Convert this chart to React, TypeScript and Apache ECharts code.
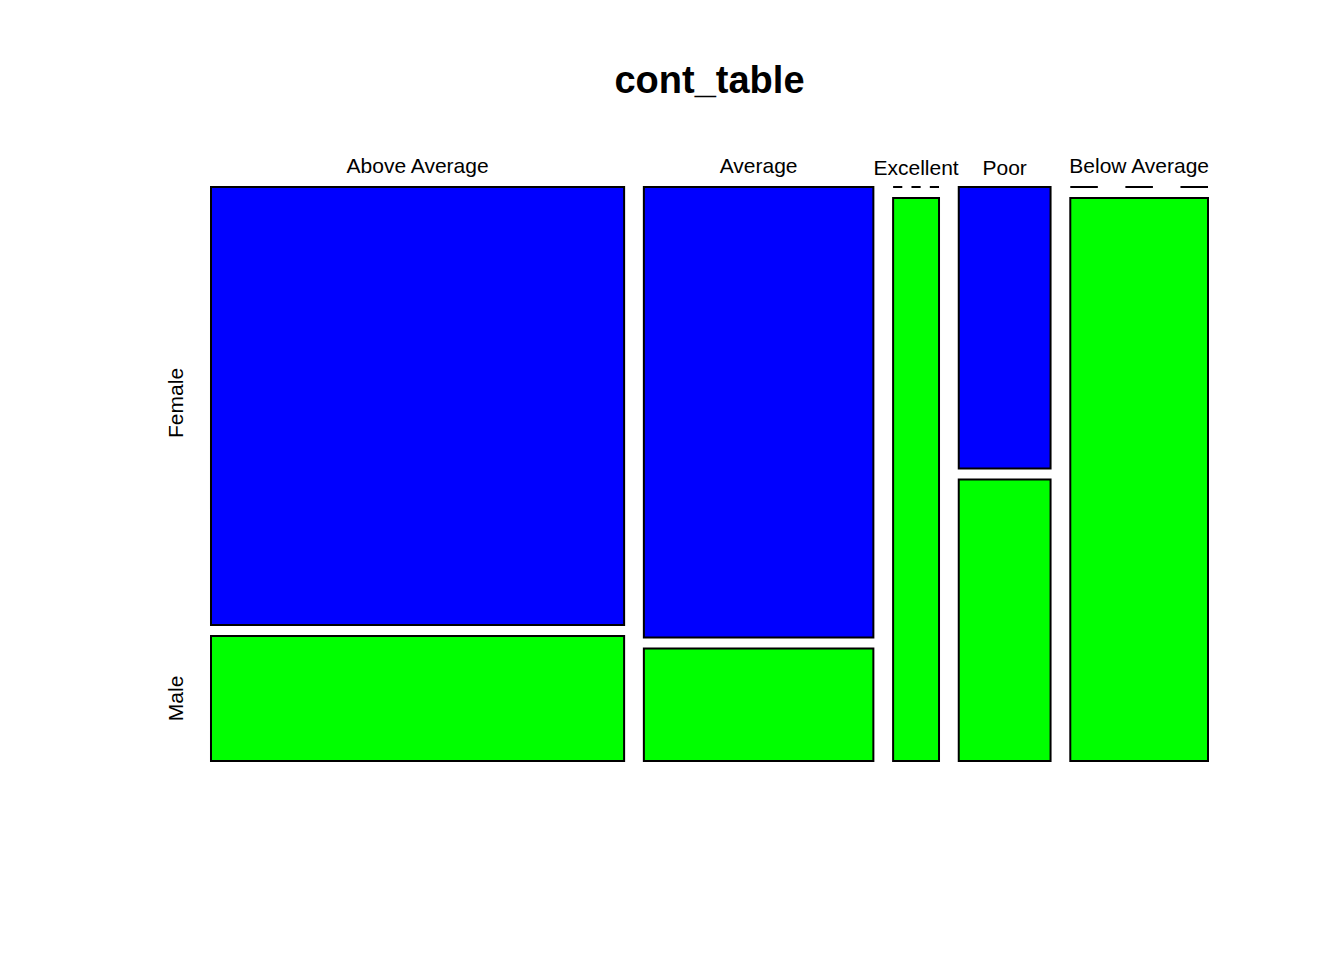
import React, { useEffect, useRef } from "react";
import * as echarts from "echarts";

const titleText = "cont_table";
const categories = ["Above Average", "Average", "Excellent", "Poor", "Below Average"];
const rowNames = ["Female", "Male"];
const female = [7, 4, 0, 1, 0];
const male = [2, 1, 1, 1, 3];
const rowColors = ["#0000FF", "#00FF00"];

const FONT = "'Liberation Sans', Arial, Helvetica, sans-serif";

export default function App() {
  const ref = useRef<HTMLDivElement>(null);

  useEffect(() => {
    if (!ref.current) return;
    const chart = echarts.init(ref.current, null, { renderer: "svg" });

    const counts = [female, male];
    const colTotals = categories.map((_, i) => female[i] + male[i]);
    const grand = colTotals.reduce((a, b) => a + b, 0);
    const xGap = 0.43; // gap between columns, in count units
    const yGap = 0.0195; // gap between rows, in fraction units
    const colStart: number[] = [];
    let acc = 0;
    colTotals.forEach((t) => {
      colStart.push(acc);
      acc += t + xGap;
    });
    const xMax = grand + xGap * (categories.length - 1);
    const yMax = 1 + yGap;

    const rowSpan = (c: number, r: number) => {
      const t = colTotals[c];
      const fFrac = female[c] / t;
      if (r === 0) return [0, fFrac];
      return [fFrac + yGap, 1 + yGap];
    };

    const cellData: number[][] = [];
    categories.forEach((_, c) => rowNames.forEach((__, r) => cellData.push([c, r])));

    const labelData: number[][] = categories.map((_, c) => [c, 0]);

    const option: any = {
      animation: false,
      backgroundColor: "#ffffff",
      grid: { left: 211, right: 136, top: 187, bottom: 199, containLabel: false },
      xAxis: { type: "value", min: 0, max: xMax, show: false },
      yAxis: { type: "value", min: 0, max: yMax, inverse: true, show: false },
      graphic: [
        {
          type: "text",
          x: 709.5,
          y: 80,
          style: {
            text: titleText,
            fill: "#000",
            font: `bold 38px ${FONT}`,
            textAlign: "center",
            textVerticalAlign: "middle",
            align: "center",
            verticalAlign: "middle",
          },
        },
      ],
      series: [
        {
          type: "custom",
          data: cellData,
          clip: false,
          renderItem: (params: any, api: any) => {
            const c = api.value(0);
            const r = api.value(1);
            const x0 = colStart[c];
            const x1 = x0 + colTotals[c];
            const [y0, y1] = rowSpan(c, r);
            const p0 = api.coord([x0, y0]);
            const p1 = api.coord([x1, y1]);
            const n = counts[r][c];
            if (n === 0) {
              const w = p1[0] - p0[0];
              return {
                type: "line",
                shape: { x1: p0[0], y1: p0[1], x2: p1[0], y2: p0[1] },
                style: { stroke: "#000", lineWidth: 2, lineDash: [w / 5, w / 5] },
              };
            }
            return {
              type: "rect",
              shape: { x: p0[0], y: p0[1], width: p1[0] - p0[0], height: p1[1] - p0[1] },
              style: { fill: rowColors[r], stroke: "#000", lineWidth: 2 },
            };
          },
        },
        {
          type: "custom",
          data: labelData,
          clip: false,
          silent: true,
          renderItem: (params: any, api: any) => {
            const c = api.value(0);
            const x0 = colStart[c];
            const x1 = x0 + colTotals[c];
            const pTop = api.coord([(x0 + x1) / 2, 0]);
            const hasDesc = /[gjpqy]/.test(categories[c]);
            const children: any[] = [
              {
                type: "text",
                x: pTop[0],
                y: pTop[1] - (hasDesc ? 22 : 20),
                style: {
                  text: categories[c],
                  fill: "#000",
                  font: `21px ${FONT}`,
                  textAlign: "center",
                  textVerticalAlign: "middle",
                  align: "center",
                  verticalAlign: "middle",
                },
              },
            ];
            if (c === 0) {
              rowNames.forEach((name, r) => {
                const [y0, y1] = rowSpan(0, r);
                const p = api.coord([0, (y0 + y1) / 2]);
                children.push({
                  type: "text",
                  x: p[0] - 36,
                  y: p[1] - (r === 0 ? 3 : 0),
                  rotation: Math.PI / 2,
                  style: {
                    text: name,
                    fill: "#000",
                    font: `21px ${FONT}`,
                    textAlign: "center",
                    textVerticalAlign: "middle",
                    align: "center",
                    verticalAlign: "middle",
                  },
                });
              });
            }
            return { type: "group", children };
          },
        },
      ],
    };

    chart.setOption(option);
    return () => chart.dispose();
  }, []);

  return (
    <div
      ref={ref}
      style={{ position: "fixed", left: 0, top: 0, width: 1344, height: 960, background: "#fff" }}
    />
  );
}
